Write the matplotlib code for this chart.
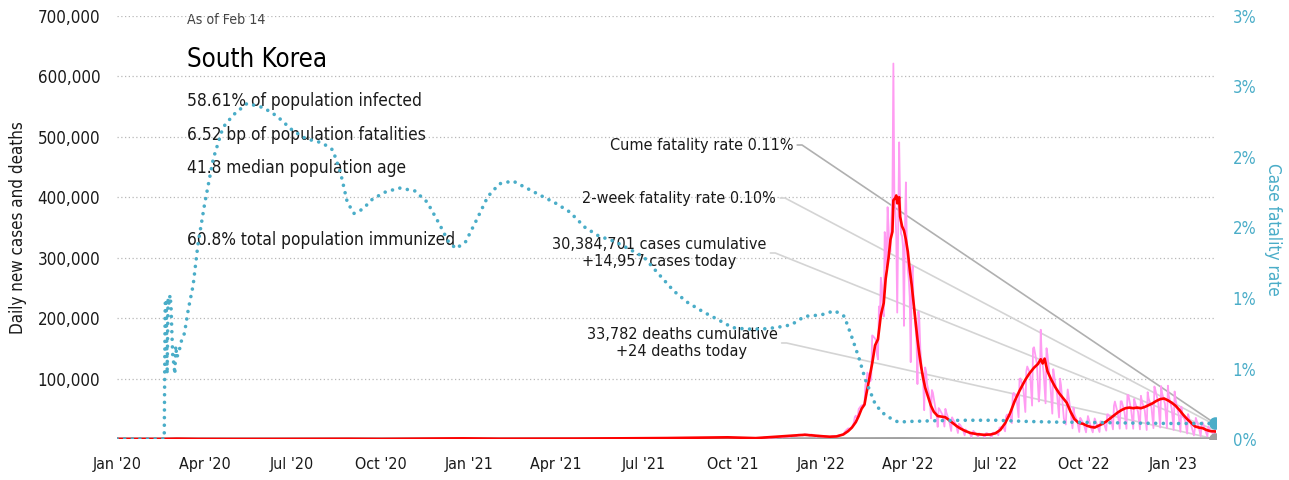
import pandas as pd
import matplotlib.pyplot as plt
import matplotlib.dates as mdates
from matplotlib.ticker import FuncFormatter

plt.rcParams['font.family'] = ['DejaVu Sans']
plt.rcParams['font.stretch'] = 'condensed'

# daily reported cases: turning points of the weekly reporting cycle
daily_dates = [
    '2021-11-01', '2021-11-03', '2021-11-06', '2021-11-08', '2021-11-10', '2021-11-13',
    '2021-11-15', '2021-11-17', '2021-11-20', '2021-11-22', '2021-11-24', '2021-11-27',
    '2021-11-29', '2021-12-01', '2021-12-04', '2021-12-06', '2021-12-08', '2021-12-11',
    '2021-12-13', '2021-12-15', '2021-12-18', '2021-12-20', '2021-12-22', '2021-12-25',
    '2021-12-27', '2021-12-29', '2022-01-01', '2022-01-03', '2022-01-05', '2022-01-08',
    '2022-01-10', '2022-01-12', '2022-01-15', '2022-01-17', '2022-01-19', '2022-01-22',
    '2022-01-24', '2022-01-26', '2022-01-29', '2022-01-31', '2022-02-02', '2022-02-03',
    '2022-02-04', '2022-02-05', '2022-02-06', '2022-02-07', '2022-02-08', '2022-02-09',
    '2022-02-11', '2022-02-13', '2022-02-14', '2022-02-15', '2022-02-16', '2022-02-17',
    '2022-02-18', '2022-02-20', '2022-02-21', '2022-02-22', '2022-02-23', '2022-02-24',
    '2022-02-26', '2022-02-27', '2022-02-28', '2022-03-01', '2022-03-02', '2022-03-03',
    '2022-03-04', '2022-03-05', '2022-03-06', '2022-03-07', '2022-03-08', '2022-03-09',
    '2022-03-10', '2022-03-11', '2022-03-12', '2022-03-13', '2022-03-14', '2022-03-15',
    '2022-03-16', '2022-03-17', '2022-03-18', '2022-03-19', '2022-03-20', '2022-03-21',
    '2022-03-22', '2022-03-23', '2022-03-24', '2022-03-25', '2022-03-26', '2022-03-27',
    '2022-03-28', '2022-03-29', '2022-03-30', '2022-03-31', '2022-04-01', '2022-04-02',
    '2022-04-03', '2022-04-04', '2022-04-05', '2022-04-06', '2022-04-07', '2022-04-08',
    '2022-04-09', '2022-04-10', '2022-04-11', '2022-04-12', '2022-04-13', '2022-04-14',
    '2022-04-15', '2022-04-16', '2022-04-17', '2022-04-18', '2022-04-19', '2022-04-20',
    '2022-04-21', '2022-04-23', '2022-04-24', '2022-04-25', '2022-04-26', '2022-04-27',
    '2022-04-29', '2022-05-01', '2022-05-02', '2022-05-03', '2022-05-04', '2022-05-07',
    '2022-05-09', '2022-05-10', '2022-05-11', '2022-05-14', '2022-05-16', '2022-05-17',
    '2022-05-18', '2022-05-21', '2022-05-23', '2022-05-24', '2022-05-25', '2022-05-28',
    '2022-05-30', '2022-05-31', '2022-06-01', '2022-06-04', '2022-06-06', '2022-06-08',
    '2022-06-11', '2022-06-13', '2022-06-14', '2022-06-15', '2022-06-18', '2022-06-20',
    '2022-06-21', '2022-06-22', '2022-06-25', '2022-06-27', '2022-06-28', '2022-06-29',
    '2022-07-02', '2022-07-04', '2022-07-05', '2022-07-06', '2022-07-09', '2022-07-11',
    '2022-07-12', '2022-07-13', '2022-07-16', '2022-07-18', '2022-07-19', '2022-07-20',
    '2022-07-23', '2022-07-25', '2022-07-26', '2022-07-27', '2022-07-30', '2022-08-01',
    '2022-08-02', '2022-08-03', '2022-08-06', '2022-08-08', '2022-08-09', '2022-08-10',
    '2022-08-13', '2022-08-15', '2022-08-16', '2022-08-17', '2022-08-18', '2022-08-20',
    '2022-08-22', '2022-08-23', '2022-08-24', '2022-08-27', '2022-08-29', '2022-08-30',
    '2022-08-31', '2022-09-03', '2022-09-05', '2022-09-06', '2022-09-07', '2022-09-10',
    '2022-09-12', '2022-09-13', '2022-09-14', '2022-09-17', '2022-09-19', '2022-09-20',
    '2022-09-21', '2022-09-24', '2022-09-26', '2022-09-27', '2022-09-28', '2022-10-01',
    '2022-10-03', '2022-10-05', '2022-10-08', '2022-10-10', '2022-10-12', '2022-10-15',
    '2022-10-17', '2022-10-18', '2022-10-19', '2022-10-22', '2022-10-24', '2022-10-25',
    '2022-10-26', '2022-10-29', '2022-10-31', '2022-11-01', '2022-11-02', '2022-11-05',
    '2022-11-07', '2022-11-08', '2022-11-09', '2022-11-12', '2022-11-14', '2022-11-15',
    '2022-11-16', '2022-11-19', '2022-11-21', '2022-11-22', '2022-11-23', '2022-11-26',
    '2022-11-28', '2022-11-29', '2022-11-30', '2022-12-03', '2022-12-05', '2022-12-06',
    '2022-12-07', '2022-12-10', '2022-12-12', '2022-12-13', '2022-12-14', '2022-12-17',
    '2022-12-19', '2022-12-20', '2022-12-21', '2022-12-24', '2022-12-26', '2022-12-27',
    '2022-12-28', '2022-12-31', '2023-01-02', '2023-01-03', '2023-01-04', '2023-01-07',
    '2023-01-09', '2023-01-10', '2023-01-11', '2023-01-14', '2023-01-16', '2023-01-17',
    '2023-01-18', '2023-01-21', '2023-01-23', '2023-01-24', '2023-01-25', '2023-01-28',
    '2023-01-30', '2023-01-31', '2023-02-01', '2023-02-04', '2023-02-06', '2023-02-07',
    '2023-02-08', '2023-02-11', '2023-02-13', '2023-02-14',
]
daily_cases = [
    1686, 2667, 2224, 1758, 2425, 2368,
    2419, 3187, 3205, 2827, 4115, 3928,
    3308, 5122, 5352, 4325, 7174, 6976,
    5817, 7848, 7312, 5202, 7455, 5839,
    3865, 5409, 4416, 3129, 4444, 3510,
    3005, 4387, 4418, 3857, 5805, 7009,
    7513, 13012, 17542, 17079, 20270, 22907,
    27443, 36362, 38691, 35286, 36719, 49567,
    53926, 56431, 54619, 57177, 90443, 93135,
    109831, 104829, 95362, 99573, 171452, 170016,
    166209, 163566, 139626, 131763, 219241, 198803,
    266853, 254327, 210716, 202721, 342446, 327549,
    282987, 383665, 350190, 309790, 309779, 362338,
    400741, 621328, 407017, 381454, 334708, 209169,
    353980, 490881, 395598, 339514, 335580, 318130,
    187213, 347554, 424641, 320743, 280273, 264171,
    234301, 127190, 266135, 286294, 224820, 205333,
    185566, 164481, 90928, 210755, 195419, 148443,
    125846, 107916, 93001, 47743, 118504, 111319,
    90867, 75449, 64725, 34370, 81058, 76787,
    57464, 37771, 20085, 51131, 49064, 40064,
    20601, 49933, 43925, 29581, 13296, 35906,
    32451, 23956, 9975, 25125, 23956, 16584,
    6141, 15797, 13358, 9896, 3591, 13358,
    8441, 3823, 9431, 7995, 6068, 3419,
    9305, 9896, 6241, 3423, 9894, 10463,
    10715, 6253, 18147, 19371, 20286, 12693,
    37360, 40266, 40342, 26299, 73582, 76402,
    65433, 35883, 99327, 100285, 82002, 44689,
    111789, 119922, 107916, 55292, 149897, 151792,
    124592, 62078, 84128, 180803, 137241, 110000,
    59046, 150320, 139339, 89586, 41989, 115616,
    103961, 73000, 35700, 99837, 89586, 34000,
    24000, 57309, 82000, 45000, 17668, 52000,
    41000, 29000, 11585, 35016, 32404, 23000,
    11000, 38000, 20000, 11000, 34000, 21000,
    11600, 29300, 29000, 24000, 13800, 40900,
    40700, 33000, 16000, 54800, 62000, 42000,
    17000, 62300, 62500, 44000, 17000, 72900,
    72800, 46000, 17000, 66400, 60300, 45000,
    16000, 71500, 62700, 47000, 15000, 77600,
    67400, 52000, 18000, 86900, 81300, 60000,
    19000, 87600, 75700, 58000, 18000, 88200,
    71400, 50000, 15000, 78600, 65000, 42000,
    12000, 53400, 41300, 30000, 9000, 41200,
    34700, 18000, 6000, 16600, 35000, 20000,
    5000, 22000, 27800, 14000, 4500, 20900,
    16600, 11000, 3000, 14957,
]

# 7-day average of new cases
avg_dates = [
    '2020-01-01', '2020-02-18', '2020-03-03', '2020-03-25', '2020-05-01', '2020-06-10',
    '2020-08-28', '2020-10-01', '2020-12-25', '2021-02-01', '2021-04-20', '2021-07-25',
    '2021-09-26', '2021-10-25', '2021-12-15', '2022-01-03', '2022-01-10', '2022-01-17',
    '2022-01-24', '2022-01-29', '2022-02-02', '2022-02-06', '2022-02-09', '2022-02-12',
    '2022-02-15', '2022-02-17', '2022-02-20', '2022-02-23', '2022-02-26', '2022-03-01',
    '2022-03-04', '2022-03-07', '2022-03-09', '2022-03-12', '2022-03-14', '2022-03-16',
    '2022-03-17', '2022-03-19', '2022-03-20', '2022-03-21', '2022-03-23', '2022-03-24',
    '2022-03-26', '2022-03-28', '2022-03-30', '2022-04-01', '2022-04-03', '2022-04-05',
    '2022-04-07', '2022-04-09', '2022-04-11', '2022-04-13', '2022-04-15', '2022-04-17',
    '2022-04-19', '2022-04-22', '2022-04-25', '2022-04-28', '2022-05-02', '2022-05-06',
    '2022-05-10', '2022-05-14', '2022-05-18', '2022-05-22', '2022-05-26', '2022-05-31',
    '2022-06-05', '2022-06-12', '2022-06-19', '2022-06-26', '2022-07-01', '2022-07-06',
    '2022-07-11', '2022-07-16', '2022-07-21', '2022-07-26', '2022-08-01', '2022-08-05',
    '2022-08-10', '2022-08-14', '2022-08-17', '2022-08-19', '2022-08-21', '2022-08-24',
    '2022-08-28', '2022-09-01', '2022-09-05', '2022-09-09', '2022-09-13', '2022-09-17',
    '2022-09-21', '2022-09-25', '2022-09-30', '2022-10-04', '2022-10-08', '2022-10-12',
    '2022-10-16', '2022-10-20', '2022-10-24', '2022-10-28', '2022-11-01', '2022-11-05',
    '2022-11-09', '2022-11-13', '2022-11-17', '2022-11-21', '2022-11-25', '2022-11-29',
    '2022-12-03', '2022-12-07', '2022-12-11', '2022-12-15', '2022-12-19', '2022-12-23',
    '2022-12-27', '2022-12-31', '2023-01-04', '2023-01-08', '2023-01-12', '2023-01-16',
    '2023-01-20', '2023-01-24', '2023-01-28', '2023-02-01', '2023-02-05', '2023-02-09',
    '2023-02-14',
]
avg_cases = [
    0, 5, 550, 100, 10, 45,
    330, 80, 1050, 400, 650, 1600,
    2800, 1500, 7000, 4500, 3800, 4300,
    7500, 13000, 19000, 28000, 38000, 50000,
    57000, 75000, 100000, 125000, 155000, 165000,
    205000, 225000, 265000, 300000, 330000, 343000,
    395000, 399000, 403000, 390000, 400000, 368000,
    352000, 345000, 330000, 310000, 280000, 255000,
    225000, 195000, 165000, 140000, 118000, 100000,
    85000, 70000, 55000, 45000, 38000, 37000,
    36000, 31000, 26000, 21000, 17000, 13000,
    10000, 8000, 7000, 7500, 9500, 15000,
    26000, 42000, 63000, 80000, 98000, 108000,
    118000, 124000, 132000, 125000, 133000, 112000,
    98000, 86000, 76000, 68000, 60000, 45000,
    33000, 27000, 25000, 22000, 20000, 19000,
    22000, 25000, 29000, 34000, 39000, 44000,
    48000, 51000, 52000, 51000, 52000, 51000,
    53000, 56000, 59000, 63000, 66000, 67000,
    64000, 60000, 55000, 48000, 40000, 33000,
    27000, 21000, 19000, 18000, 15000, 13000,
    12500,
]

# 7-day average of new deaths
death_dates = ['2020-01-01', '2020-03-15', '2020-12-25', '2021-12-25', '2022-03-25',
               '2022-06-20', '2022-08-25', '2022-12-25', '2023-02-14']
death_avg = [0, 6, 20, 70, 350, 10, 60, 50, 24]

# cumulative case fatality rate, percent
cfr_dates = [
    '2020-01-01', '2020-02-19', '2020-02-20', '2020-02-21', '2020-02-22', '2020-02-23',
    '2020-02-24', '2020-02-25', '2020-02-26', '2020-02-27', '2020-02-28', '2020-02-29',
    '2020-03-01', '2020-03-02', '2020-03-03', '2020-03-05', '2020-03-08', '2020-03-11',
    '2020-03-15', '2020-03-20', '2020-03-25', '2020-04-01', '2020-04-10', '2020-04-20',
    '2020-05-01', '2020-05-15', '2020-06-01', '2020-06-15', '2020-07-01', '2020-07-15',
    '2020-08-01', '2020-08-12', '2020-08-20', '2020-08-27', '2020-09-03', '2020-09-12',
    '2020-09-22', '2020-10-05', '2020-10-20', '2020-11-05', '2020-11-18', '2020-12-01',
    '2020-12-10', '2020-12-18', '2020-12-28', '2021-01-08', '2021-01-20', '2021-02-01',
    '2021-02-15', '2021-03-01', '2021-03-15', '2021-04-01', '2021-04-15', '2021-05-01',
    '2021-05-15', '2021-06-01', '2021-06-15', '2021-07-01', '2021-07-15', '2021-08-01',
    '2021-08-15', '2021-09-01', '2021-09-15', '2021-10-01', '2021-10-15', '2021-11-01',
    '2021-11-15', '2021-12-01', '2021-12-15', '2022-01-01', '2022-01-15', '2022-01-25',
    '2022-02-01', '2022-02-09', '2022-02-16', '2022-02-26', '2022-03-05', '2022-03-12',
    '2022-03-22', '2022-04-05', '2022-05-01', '2022-06-01', '2022-07-01', '2022-08-01',
    '2022-09-01', '2022-10-01', '2022-11-01', '2022-12-01', '2023-01-01', '2023-02-14',
]
cfr_pct = [
    0, 0, 0.96, 0.99, 0.46, 1.00,
    0.96, 1.02, 0.95, 0.74, 0.56, 0.54,
    0.46, 0.66, 0.58, 0.61, 0.70, 0.75,
    0.92, 1.09, 1.38, 1.67, 1.99, 2.21,
    2.30, 2.38, 2.35, 2.29, 2.19, 2.13,
    2.10, 2.05, 1.89, 1.68, 1.60, 1.63,
    1.70, 1.75, 1.78, 1.76, 1.68, 1.52,
    1.40, 1.35, 1.40, 1.55, 1.72, 1.81,
    1.83, 1.78, 1.73, 1.67, 1.61, 1.50,
    1.44, 1.40, 1.35, 1.29, 1.18, 1.05,
    0.97, 0.90, 0.85, 0.79, 0.78, 0.78,
    0.79, 0.81, 0.87, 0.88, 0.91, 0.87,
    0.74, 0.58, 0.42, 0.25, 0.19, 0.155,
    0.12, 0.125, 0.13, 0.133, 0.133, 0.125,
    0.12, 0.118, 0.115, 0.112, 0.11, 0.11,
]

as_of = 'As of Feb 14'
country = 'South Korea'
facts = ['58.61% of population infected', '6.52 bp of population fatalities',
         '41.8 median population age']
immunized = '60.8% total population immunized'

cume_cfr = 0.11
twoweek_cfr = 0.10
cases_total = 30384701
cases_today = 14957
deaths_total = 33782
deaths_today = 24

PINK = '#ff9cf2'
RED = '#ff0000'
TEAL = '#4aadc8'
GREY = '#a0a0a0'
INK = '#1a1a1a'

daily_dates = pd.to_datetime(daily_dates)
avg_dates = pd.to_datetime(avg_dates)
death_dates = pd.to_datetime(death_dates)
cfr_dates = pd.to_datetime(cfr_dates)
last_day = cfr_dates[-1]
last_x = mdates.date2num(last_day)

fig = plt.figure(figsize=(12.89, 4.8), dpi=100)
ax = fig.add_axes([0.0908, 0.0854, 0.8526, 0.8813])
ax2 = ax.twinx()

ax.plot(death_dates, death_avg, color=GREY, lw=2.5, zorder=2, solid_capstyle='butt')
ax.plot(daily_dates, daily_cases, color=PINK, lw=1.3, zorder=3)
ax.plot(avg_dates, avg_cases, color=RED, lw=1.9, zorder=4)
ax.plot([last_day], [death_avg[-1]], 'o', color=GREY, ms=8, zorder=5)

ax2.plot(cfr_dates, cfr_pct, color=TEAL, lw=2.6, linestyle=(0, (0.01, 2.1)),
         dash_capstyle='round')
ax2.plot([last_day], [cfr_pct[-1]], 'o', color=TEAL, ms=8)

ax.set_xlim(pd.Timestamp('2020-01-01'), pd.Timestamp('2023-02-15'))
ax.set_ylim(0, 700000)
ax2.set_ylim(0, 3)

ax.xaxis.set_major_locator(mdates.MonthLocator(bymonth=[1, 4, 7, 10]))
ax.xaxis.set_major_formatter(mdates.DateFormatter("%b '%y"))
ax.set_yticks(range(100000, 700001, 100000))
ax.yaxis.set_major_formatter(FuncFormatter(lambda v, p: f'{int(v):,}'))
ax2.set_yticks([0, 0.5, 1, 1.5, 2, 2.5, 3])
ax2.yaxis.set_major_formatter(FuncFormatter(lambda v, p: f'{int(v + 0.5)}%'))

ax.yaxis.grid(True, linestyle=(0, (1, 2)), color='#b8b8b8', lw=0.9)
ax.set_axisbelow(True)
for a in (ax, ax2):
    for s in a.spines.values():
        s.set_visible(False)
ax.tick_params(axis='x', length=0, pad=13, labelsize=11.5, labelcolor=INK)
ax.tick_params(axis='y', length=0, pad=12, labelsize=12.2, labelcolor=INK)
ax2.tick_params(axis='y', length=0, pad=12, labelsize=12, labelcolor=TEAL)

ax.text(-0.09, 0.5, 'Daily new cases and deaths', transform=ax.transAxes,
        rotation=90, ha='center', va='center', fontsize=12.2, color=INK)
ax2.text(1.052, 0.496, 'Case fatality rate', transform=ax.transAxes,
         rotation=270, ha='center', va='center', fontsize=12.3, color=TEAL)

# headline block
ax.text(0.0637, 0.990, as_of, transform=ax.transAxes, fontsize=10.2,
        color='#444444', va='center')
ax.text(0.0637, 0.896, country, transform=ax.transAxes, fontsize=18.5,
        color='#000000', va='center')
for fy, line in zip([0.799, 0.7187, 0.6407], facts):
    ax.text(0.0637, fy, line, transform=ax.transAxes, fontsize=12.4,
            color=INK, va='center')
ax.text(0.0637, 0.4704, immunized, transform=ax.transAxes, fontsize=12.4,
        color=INK, va='center')


def leader(label, value, trans, pos, ha, color):
    ax.annotate(label, xy=(last_x, value), xycoords=trans, xytext=pos,
                textcoords='axes fraction', ha=ha, va='center',
                multialignment='center', linespacing=1.15,
                fontsize=11.6, color=INK, zorder=1,
                arrowprops=dict(arrowstyle='-', color=color, lw=1.2,
                                shrinkA=3, shrinkB=0, relpos=(1, 0.5),
                                patchA=None,
                                connectionstyle='arc,angleA=0,angleB=0,armA=9,armB=0,rad=0'))


leader(f'Cume fatality rate {cume_cfr:.2f}%', cume_cfr, ax2.transData,
       (0.6151, 0.695), 'right', '#b0b0b0')
leader(f'2-week fatality rate {twoweek_cfr:.2f}%', twoweek_cfr, ax2.transData,
       (0.5996, 0.5697), 'right', '#d4d4d4')
leader(f'{cases_total:,} cases cumulative\n+{cases_today:,} cases today',
       cases_today, ax.transData, (0.4932, 0.4397), 'center', '#d4d4d4')
leader(f'{deaths_total:,} deaths cumulative\n+{deaths_today:,} deaths today',
       deaths_today, ax.transData, (0.5141, 0.2270), 'center', '#d4d4d4')

fig.savefig('out.png', dpi=100)
